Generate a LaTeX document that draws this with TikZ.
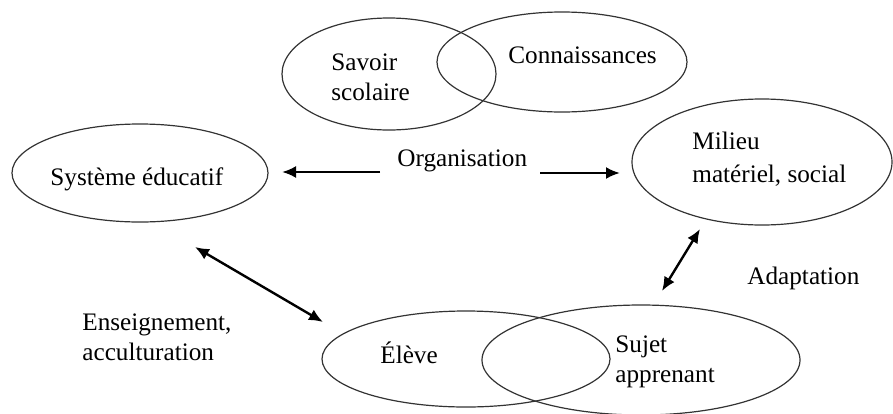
\documentclass[tikz,border=0pt]{standalone}
\usepackage{fontspec}
\setmainfont{Liberation Serif}
\usepackage{tikz}
\usetikzlibrary{shapes.geometric, arrows.meta}
\tikzset{>={Latex[length=7pt,width=6pt]}}
\tikzset{
  blob/.style={draw, ellipse, line width=0.6pt, inner sep=0pt, draw=black!80},
  lbl/.style={font=\fontsize{12.6}{15}\selectfont, align=left, inner sep=0pt, anchor=west},
  link/.style={<->, line width=1.2pt}
}

\begin{document}
\begin{tikzpicture}[x=0.5pt,y=-0.5pt]
    \useasboundingbox (0,0) rectangle (893,413);

    % Ellipses
    \node[blob, minimum width=107pt, minimum height=56pt] (savoir) at (389,74) {};
    \node[blob, minimum width=125pt, minimum height=50pt] (connais) at (562,62) {};
    \node[blob, minimum width=128pt, minimum height=49pt] (systeme) at (140,173) {};
    \node[blob, minimum width=130pt, minimum height=63pt] (milieu) at (762,162) {};
    \node[blob, minimum width=144pt, minimum height=48pt] (eleve) at (466,359) {};
    \node[blob, minimum width=159pt, minimum height=55pt] (sujet) at (641,360) {};

    % Labels
    \node[lbl] (savoirtxt) at (331,77) {Savoir\\scolaire};
    \node[lbl] (connaistxt) at (508,55) {Connaissances};
    \node[lbl] (systxt) at (50,179) {Système éducatif};
    \node[lbl] (milieutxt) at (692,159) {Milieu\\[1.5pt]matériel, social};
    \node[lbl] (orgtxt) at (397,161) {Organisation};
    \node[lbl] (ensetxt) at (82,337) {Enseignement,\\acculturation};
    \node[lbl] (elevetxt) at (380,353) {Élève};
    \node[lbl] (sujettxt) at (615,362) {Sujet\\apprenant};
    \node[lbl] (adapttxt) at (747,278) {Adaptation};

    % Arrow ends
    \coordinate (orgW) at (380,172);
    \coordinate (sysE) at (282,172);
    \coordinate (orgE) at (540,173);
    \coordinate (milW) at (620,173);
    \coordinate (sysS) at (195,247);
    \coordinate (eleN) at (323,322);
    \coordinate (milS) at (700,229);
    \coordinate (sujN) at (662,291);

    % Arrows
    \draw[->, line width=1.2pt] (orgW) -- (sysE);
    \draw[->, line width=1.2pt] (orgE) -- (milW);
    \draw[link] (sysS) -- (eleN);
    \draw[link] (milS) -- (sujN);

\end{tikzpicture}
\end{document}
